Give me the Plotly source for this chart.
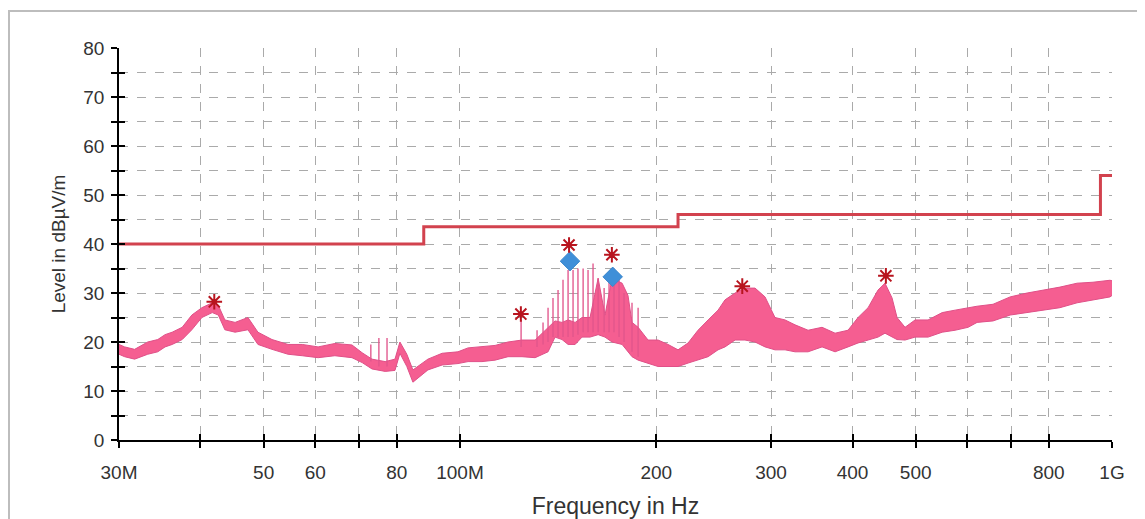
import plotly.graph_objects as go
import math

# ---- data (frequency in MHz, level in dBuV/m) ----
freq_mhz = [30.0, 30.6, 31.7, 33.2, 34.4, 35.3, 36.2, 37.5, 38.8, 40.2, 41.7, 42.6, 43.6, 45.2, 47.3,
            49.0, 51.5, 54.5, 57.3, 60.6, 64.3, 68.3, 70.8, 73.3, 76.8, 79.5, 80.9, 82.9, 84.7, 86.2,
            89.3, 93.9, 99.3, 102.9, 108.1, 113.2, 118.5, 124.5, 130.4, 136.5, 139.9, 143.4, 146.5,
            150.2, 153.9, 158.3, 162.9, 166.9, 171.1, 177.3, 181.0, 183.6, 187.6, 194.3, 201.3, 208.5,
            216.0, 223.8, 231.8, 240.2, 248.8, 255.0, 264.2, 273.6, 283.5, 293.7, 304.2, 315.2, 326.5,
            341.9, 359.2, 376.1, 393.7, 407.9, 422.6, 437.7, 448.6, 459.9, 468.1, 481.5, 498.9, 522.3,
            549.0, 574.6, 601.6, 621.0, 657.0, 697.8, 741.0, 784.0, 832.0, 884.0, 935.0, 993.0, 1000.0]
level_lo = [17.5, 17.0, 16.5, 17.5, 18.0, 19.0, 19.5, 20.5, 22.5, 25.0, 26.0, 25.5, 22.5, 22.0, 22.5,
            19.5, 18.5, 17.5, 17.2, 16.8, 17.2, 16.8, 15.8, 14.5, 14.0, 14.2, 17.7, 15.0, 11.8, 12.6,
            14.3, 15.3, 15.6, 16.0, 16.0, 16.3, 17.0, 17.0, 16.8, 18.0, 21.0, 20.5, 19.5,
            19.5, 21.0, 21.0, 21.5, 21.0, 20.0, 19.5, 18.0, 17.0, 16.3, 15.7, 15.0, 15.0,
            15.0, 15.7, 16.3, 17.0, 18.4, 19.0, 20.4, 20.4, 20.0, 19.0, 18.4, 18.4, 18.0,
            18.0, 19.0, 18.0, 19.0, 19.8, 20.4, 21.0, 21.8, 21.0, 20.5, 20.4, 21.0, 21.0,
            22.0, 22.4, 23.0, 24.0, 24.3, 25.5, 26.0, 26.5, 27.0, 28.0, 28.6, 29.2, 29.5]
level_hi = [19.5, 19.0, 18.5, 20.0, 20.5, 21.5, 22.0, 23.0, 25.5, 27.0, 28.0, 27.5, 24.5, 24.0, 25.0,
            22.0, 20.5, 19.5, 19.5, 19.0, 19.7, 19.4, 17.8, 16.5, 16.0, 16.5, 20.0, 17.5, 14.3, 15.0,
            16.5, 17.7, 18.0, 18.8, 19.0, 19.3, 20.0, 20.4, 20.4, 23.0, 24.3, 24.0, 24.5,
            24.0, 25.0, 25.0, 33.0, 25.5, 33.0, 32.0, 29.5, 24.0, 23.0, 20.4, 20.4, 19.5,
            18.4, 19.8, 22.4, 24.5, 26.5, 28.6, 30.0, 31.0, 31.0, 29.2, 25.0, 24.5, 23.5,
            22.4, 23.0, 21.8, 22.4, 25.0, 27.0, 30.6, 32.0, 29.0, 25.0, 23.0, 24.5, 24.5,
            26.0, 26.5, 27.0, 27.3, 27.7, 29.2, 30.0, 30.6, 31.2, 32.0, 32.2, 32.6, 32.5]

# narrow spikes / comb lines
spike_freq = [73.0, 75.1, 77.3, 124.1, 131.3, 134.1, 136.5, 138.9, 141.4, 143.9, 146.5, 149.1, 151.7,
              154.5, 157.2, 160.0, 162.9, 166.4, 169.3, 172.3, 175.4, 178.5, 183.6, 187.6]
spike_base = [16.0, 15.0, 15.0, 19.0, 19.0, 19.5, 20.0, 21.0, 21.0, 21.0, 21.0, 21.0, 21.5,
              22.0, 22.0, 22.0, 22.0, 22.0, 22.0, 22.0, 21.0, 20.0, 18.0, 17.0]
spike_top = [19.5, 20.8, 20.8, 24.5, 22.4, 24.0, 27.0, 29.0, 30.6, 32.7, 34.7, 34.7, 35.0,
             35.0, 34.7, 36.0, 33.0, 31.0, 33.5, 35.0, 33.0, 30.0, 28.0, 27.0]

# limit line (step)
limit_freq = [30, 88, 88, 216, 216, 960, 960, 1000]
limit_level = [40.0, 40.0, 43.5, 43.5, 46.0, 46.0, 54.0, 54.0]

# peak markers
peak_freq = [42.0, 124.0, 147.0, 171.0, 271.0, 450.0]
peak_level = [28.2, 25.7, 39.8, 37.8, 31.4, 33.5]
qp_freq = [147.5, 171.5]
qp_level = [36.5, 33.3]

x_tickvals = [30, 40, 50, 60, 70, 80, 100, 200, 300, 400, 500, 600, 700, 800, 1000]
x_ticktext = ["30M", "", "50", "60", "", "80", "100M", "200", "300", "400", "500", "", "", "800", "1G"]
y_tickvals = [0, 5, 10, 15, 20, 25, 30, 35, 40, 45, 50, 55, 60, 65, 70, 75, 80]
y_ticktext = ["0", "", "10", "", "20", "", "30", "", "40", "", "50", "", "60", "", "70", "", "80"]

PINK = "#F55E91"
PINK_EDGE = "#E05088"
FONT = "Arial, Liberation Sans, sans-serif"

fig = go.Figure()

# spectrum band
fig.add_trace(go.Scatter(x=freq_mhz, y=level_hi, mode="lines",
                         line=dict(color=PINK_EDGE, width=1), showlegend=False, hoverinfo="skip"))
fig.add_trace(go.Scatter(x=freq_mhz, y=level_lo, mode="lines", fill="tonexty", fillcolor=PINK,
                         line=dict(color=PINK_EDGE, width=1), showlegend=False, hoverinfo="skip"))

# spikes
sx, sy = [], []
for f, b, t in zip(spike_freq, spike_base, spike_top):
    sx += [f, f, None]
    sy += [b, t, None]
fig.add_trace(go.Scatter(x=sx, y=sy, mode="lines", line=dict(color="rgba(225,85,140,0.9)", width=1.5),
                         showlegend=False, hoverinfo="skip"))

# limit
fig.add_trace(go.Scatter(x=limit_freq, y=limit_level, mode="lines",
                         line=dict(color="#D2424E", width=3), showlegend=False))

# quasi-peak diamonds
fig.add_trace(go.Scatter(x=qp_freq, y=qp_level, mode="markers",
                         marker=dict(symbol="diamond", size=15, color="#3F8FD8",
                                     line=dict(color="#3A86CC", width=1)), showlegend=False))
# peak asterisks
fig.add_trace(go.Scatter(x=peak_freq, y=peak_level, mode="markers",
                         marker=dict(symbol="asterisk-open", size=13, color="#B8141E",
                                     line=dict(color="#B8141E", width=2)), showlegend=False))
fig.add_trace(go.Scatter(x=peak_freq, y=peak_level, mode="markers",
                         marker=dict(symbol="circle", size=5, color="#B8141E"), showlegend=False,
                         hoverinfo="skip"))

xr = [math.log10(30), math.log10(1000)]

# the page body has an 8px margin, so the figure is sized/placed to compensate
fig.update_layout(
    width=1137, height=511,
    margin=dict(l=111, r=33, t=40, b=79),
    paper_bgcolor="white", plot_bgcolor="white",
    font=dict(family=FONT, size=19, color="#333333"),
    xaxis=dict(type="log", range=xr, tickvals=x_tickvals, ticktext=x_ticktext,
               tickfont=dict(size=19),
               showgrid=True, gridcolor="#AAAAAA", griddash="dash", gridwidth=1,
               showline=True, linecolor="black", linewidth=1.5,
               ticks="outside", ticklen=6, tickwidth=1.5, tickcolor="black",
               ticklabelstandoff=8, automargin=False,
               title=dict(text="Frequency in Hz", font=dict(size=23, color="#333333"), standoff=17),
               zeroline=False),
    yaxis=dict(range=[0, 80], tickvals=y_tickvals, ticktext=y_ticktext,
               tickfont=dict(size=19),
               showgrid=True, gridcolor="#AAAAAA", griddash="dash", gridwidth=1,
               showline=True, linecolor="black", linewidth=1.5,
               ticks="outside", ticklen=6, tickwidth=1.5, tickcolor="black",
               ticklabelstandoff=3, automargin=False,
               title=dict(text="Level in dBµV/m", font=dict(size=19, color="#333333"), standoff=13),
               zeroline=False),
    xaxis2=dict(type="log", range=xr, overlaying="x", tickvals=x_tickvals, ticktext=[""] * len(x_tickvals),
                showgrid=False, showline=False, ticks="inside", ticklen=6, tickwidth=1.5,
                tickcolor="black", anchor="y", side="bottom", zeroline=False, automargin=False),
    yaxis2=dict(range=[0, 80], overlaying="y", tickvals=y_tickvals, ticktext=[""] * len(y_tickvals),
                showgrid=False, showline=False, ticks="inside", ticklen=6, tickwidth=1.5,
                tickcolor="black", anchor="x", side="left", zeroline=False, automargin=False),
    shapes=[dict(type="rect", xref="paper", yref="paper",
                 x0=(1 - 111) / 993, x1=(1132 - 111) / 993,
                 y0=(432 - 560) / 392, y1=(432 - 3) / 392,
                 line=dict(color="#BDBDBD", width=2), layer="below")],
)

# dummy trace to activate the overlay axes
fig.add_trace(go.Scatter(x=[30], y=[0], xaxis="x2", yaxis="y2", mode="markers",
                         marker=dict(opacity=0), showlegend=False, hoverinfo="skip"))

fig.write_html("out.html")
